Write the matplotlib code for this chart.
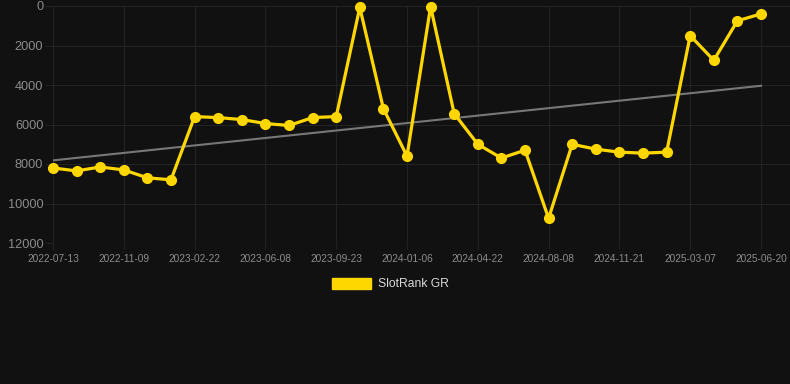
import numpy as np
import matplotlib.pyplot as plt

# SlotRank GR rank history (lower number = better rank)
ranks = [8200, 8350, 8150, 8300, 8700, 8800, 5600, 5650, 5750, 5950,
         6050, 5650, 5600, 70, 5200, 7600, 30, 5450, 7000, 7700,
         7300, 10750, 7000, 7250, 7400, 7450, 7400, 1500, 2750, 750,
         400]
tick_labels = ['2022-07-13', '2022-11-09', '2023-02-22', '2023-06-08',
               '2023-09-23', '2024-01-06', '2024-04-22', '2024-08-08',
               '2024-11-21', '2025-03-07', '2025-06-20']
y_ticks = [0, 2000, 4000, 6000, 8000, 10000, 12000]

bg = '#111111'
grid_col = '#232323'
label_col = '#8c8c8c'
gold = '#FFD700'

plt.rcParams['font.family'] = ['Liberation Sans', 'DejaVu Sans']

fig = plt.figure(figsize=(7.9, 3.84), dpi=100, facecolor=bg)
ax = fig.add_axes([53 / 790, 1 - 243 / 384, (790 - 53) / 790, (243 - 6) / 384])
ax.set_facecolor(bg)

x = np.arange(len(ranks))
y = np.array(ranks, dtype=float)

# linear trend
slope, intercept = np.polyfit(x, y, 1)
ax.plot(x, slope * x + intercept, color='#777777', lw=1.5, zorder=2)

ax.plot(x, y, color=gold, lw=2.3, marker='o', ms=7, zorder=3,
        label='SlotRank GR', clip_on=False)

# category spacing is ~23.6 px; plot area runs a bit past the last point
step = (761 - 53) / (len(ranks) - 1)
ax.set_xlim(0, (790 - 53) / step)
ax.set_ylim(12000, 0)
ax.set_yticks(y_ticks)
ax.set_yticklabels([str(v) for v in y_ticks])
ax.set_xticks(x[::3])
ax.set_xticklabels(tick_labels)

ax.grid(True, color=grid_col, lw=0.8)
ax.set_axisbelow(True)
for s in ax.spines.values():
    s.set_visible(False)
ax.tick_params(axis='y', colors=grid_col, labelcolor=label_col, length=6,
               width=0.8, labelsize=9.2, pad=1)
ax.tick_params(axis='x', colors=grid_col, labelcolor=label_col, length=4,
               width=0.8, labelsize=7.3, pad=4)

handle = plt.Rectangle((0, 0), 1, 1, color=gold)
leg = fig.legend([handle], ['SlotRank GR'], loc='center',
                 bbox_to_anchor=(390 / 790, 1 - 284 / 384), frameon=False,
                 handlelength=3.3, handleheight=1.0, handletextpad=0.5,
                 fontsize=8.7)
for t in leg.get_texts():
    t.set_color('#d8d8d8')

fig.savefig('out.png', dpi=100, facecolor=bg)
